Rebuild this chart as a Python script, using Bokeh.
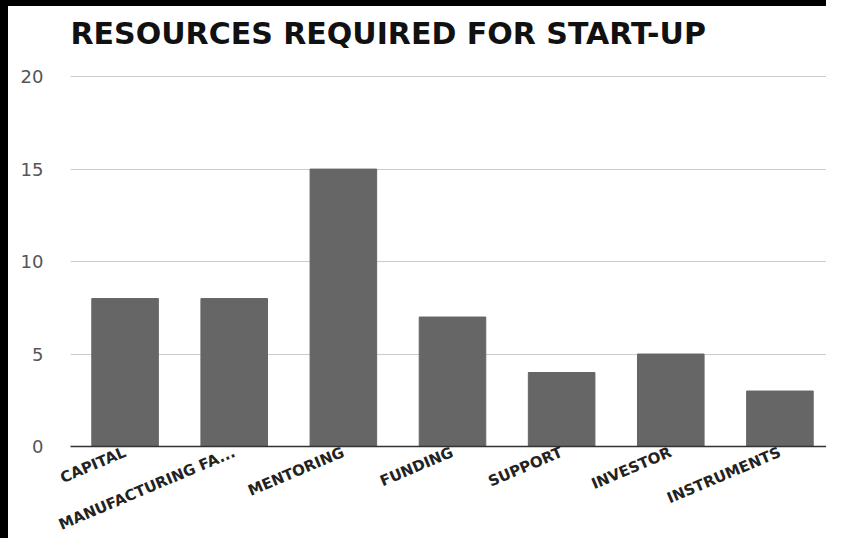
from bokeh.plotting import figure
from bokeh.models import Range1d, FactorRange, FixedTicker, Title
from bokeh.embed import file_html
from bokeh.resources import INLINE

title_text = "RESOURCES REQUIRED FOR START-UP"
categories = ["CAPITAL", "MANUFACTURING FA...", "MENTORING", "FUNDING",
              "SUPPORT", "INVESTOR", "INSTRUMENTS"]
values = [8, 8, 15, 7, 4, 5, 3]
y_ticks = [0, 5, 10, 15, 20]

p = figure(width=826, height=538, output_backend="svg", toolbar_location=None,
           x_range=FactorRange(*categories, range_padding=0),
           y_range=Range1d(0, 20.06))
p.styles = {"border-left": "8px solid black", "border-top": "6px solid black"}

p.min_border_left = 62
p.min_border_right = 0
p.min_border_top = 69
p.min_border_bottom = 98
p.outline_line_color = None
p.background_fill_color = "white"
p.border_fill_color = "white"

# blank spacer between the title and the plot area
spacer = Title(text=" ", text_font_size="10px", standoff=10)
p.add_layout(spacer, "above")

main_title = Title(text=title_text, text_font="DejaVu Sans",
                   text_font_style="bold", text_font_size="30px",
                   text_color="#111111", align="left",
                   vertical_align="top", standoff=0)
p.add_layout(main_title, "above")

p.vbar(x=categories, top=values, width=0.61, color="#666666")

p.xgrid.grid_line_color = None
p.ygrid.grid_line_color = "#cccccc"
p.ygrid.grid_line_width = 1
p.yaxis.ticker = FixedTicker(ticks=y_ticks)
p.yaxis.axis_line_color = None
p.yaxis.major_tick_line_color = None
p.yaxis.major_tick_out = 0
p.yaxis.minor_tick_line_color = None
p.yaxis.minor_tick_out = 0
p.yaxis.major_label_standoff = 27
p.yaxis.major_label_text_font = "DejaVu Sans"
p.yaxis.major_label_text_font_size = "18px"
p.yaxis.major_label_text_color = "#555555"

p.xaxis.axis_line_color = "#333333"
p.xaxis.axis_line_width = 1.5
p.xaxis.major_tick_line_color = None
p.xaxis.major_tick_out = 0
p.xaxis.minor_tick_line_color = None
p.xaxis.minor_tick_out = 0
p.xaxis.major_label_orientation = 0.40
p.xaxis.major_label_standoff = 5
p.xaxis.major_label_text_font = "DejaVu Sans"
p.xaxis.major_label_text_font_style = "bold"
p.xaxis.major_label_text_font_size = "15px"
p.xaxis.major_label_text_color = "#222222"

open("out.html", "w").write(file_html(p, INLINE))
